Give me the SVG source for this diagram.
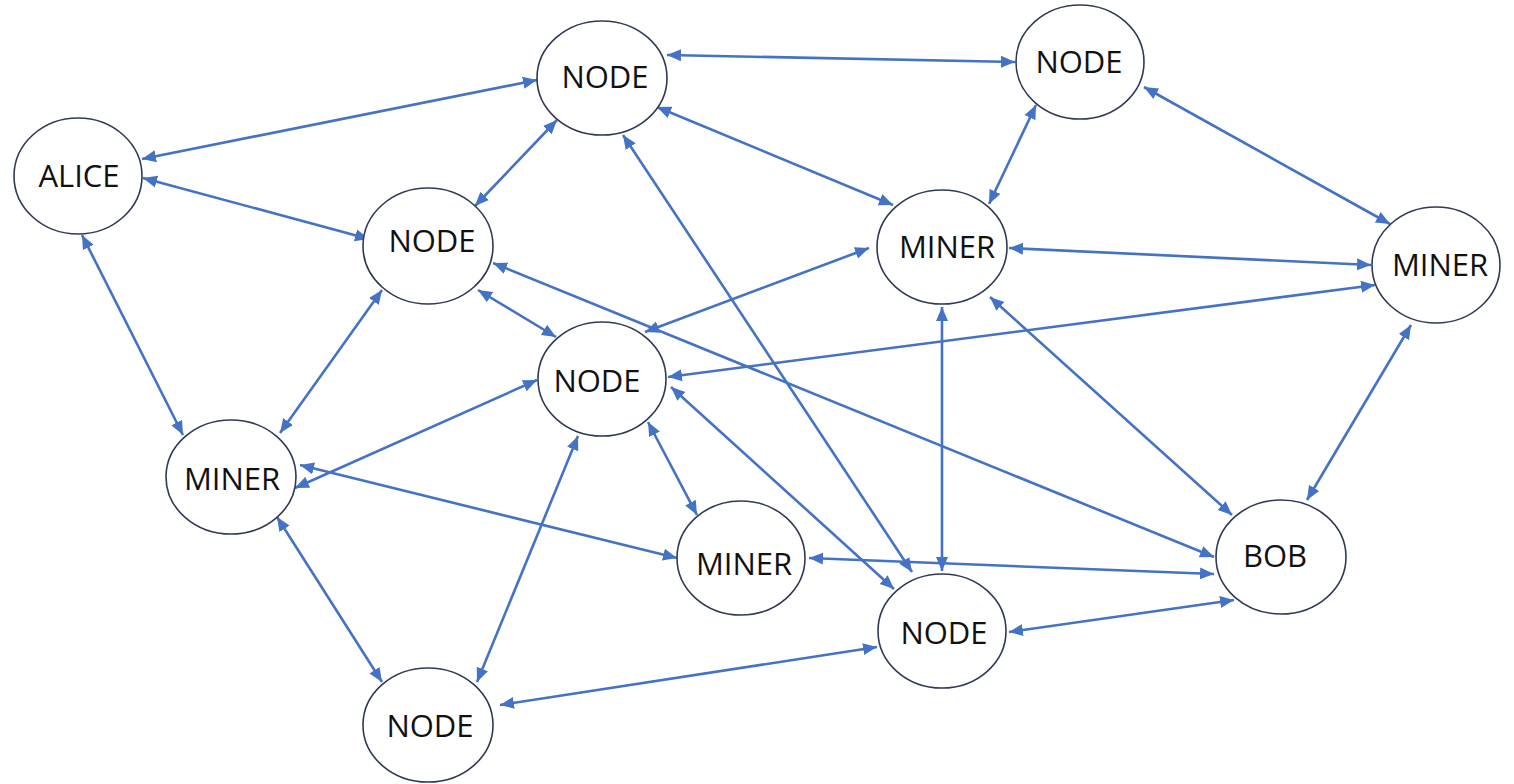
<svg xmlns="http://www.w3.org/2000/svg" width="1514" height="784" viewBox="0 0 1514 784">
<style>
.e{stroke:#4472C4;stroke-width:2.6;fill:none;marker-start:url(#ah);marker-end:url(#ah)}
.n{fill:#fff;stroke:#2F3A55;stroke-width:1.6}
.t{font-family:"Open Sans","Liberation Sans",sans-serif;font-size:31px;fill:#111;text-anchor:middle}
</style>
<defs>
<marker id="ah" markerUnits="userSpaceOnUse" markerWidth="16" markerHeight="14" refX="14" refY="7" orient="auto-start-reverse"><path d="M0,1 L14,7 L0,13 z" fill="#4472C4"/></marker>
</defs>
<rect width="1514" height="784" fill="#fff"/>
<g id="connectors">
<line class="e" x1="667" y1="55" x2="1015" y2="62"/>
<line class="e" x1="142" y1="159" x2="537" y2="80"/>
<line class="e" x1="557" y1="120" x2="475" y2="206"/>
<line class="e" x1="657" y1="107" x2="893" y2="205"/>
<line class="e" x1="623" y1="135" x2="912" y2="572"/>
<line class="e" x1="1036" y1="105" x2="989" y2="204"/>
<line class="e" x1="1144" y1="87" x2="1390" y2="224"/>
<line class="e" x1="143" y1="178" x2="369" y2="239"/>
<line class="e" x1="82" y1="235" x2="183" y2="435"/>
<line class="e" x1="382" y1="290" x2="280" y2="433"/>
<line class="e" x1="478" y1="290" x2="556" y2="337"/>
<line class="e" x1="493" y1="263" x2="1214" y2="557"/>
<line class="e" x1="869" y1="248" x2="645" y2="332"/>
<line class="e" x1="1009" y1="248" x2="1371" y2="265"/>
<line class="e" x1="942" y1="307" x2="942" y2="571"/>
<line class="e" x1="990" y1="297" x2="1232" y2="515"/>
<line class="e" x1="1375" y1="285" x2="668" y2="377"/>
<line class="e" x1="1411" y1="325" x2="1307" y2="500"/>
<line class="e" x1="537" y1="380" x2="295" y2="488"/>
<line class="e" x1="648" y1="422" x2="697" y2="515"/>
<line class="e" x1="671" y1="387" x2="894" y2="589"/>
<line class="e" x1="578" y1="436" x2="477" y2="682"/>
<line class="e" x1="300" y1="465" x2="677" y2="558"/>
<line class="e" x1="277" y1="517" x2="382" y2="682"/>
<line class="e" x1="809" y1="558" x2="1214" y2="574"/>
<line class="e" x1="1234" y1="600" x2="1009" y2="632"/>
<line class="e" x1="877" y1="647" x2="500" y2="705"/>
</g>
<g id="node-top"><ellipse class="n" cx="602" cy="78" rx="65" ry="57"/><text class="t" x="605" y="88">NODE</text></g>
<g id="node-top-right"><ellipse class="n" cx="1080" cy="62" rx="64" ry="57"/><text class="t" x="1079" y="73">NODE</text></g>
<g id="alice"><ellipse class="n" cx="78" cy="176" rx="64" ry="58"/><text class="t" x="79" y="187">ALICE</text></g>
<g id="node-left"><ellipse class="n" cx="428" cy="246" rx="65" ry="58"/><text class="t" x="432" y="252">NODE</text></g>
<g id="miner-center"><ellipse class="n" cx="942" cy="247" rx="65" ry="57"/><text class="t" x="947" y="258">MINER</text></g>
<g id="miner-right"><ellipse class="n" cx="1436" cy="265" rx="64" ry="58"/><text class="t" x="1440" y="276">MINER</text></g>
<g id="node-center"><ellipse class="n" cx="602" cy="379" rx="64" ry="57"/><text class="t" x="597" y="392">NODE</text></g>
<g id="miner-left"><ellipse class="n" cx="231" cy="477" rx="65" ry="57"/><text class="t" x="232" y="490">MINER</text></g>
<g id="miner-bottom"><ellipse class="n" cx="741" cy="558" rx="64" ry="57"/><text class="t" x="744" y="575">MINER</text></g>
<g id="bob"><ellipse class="n" cx="1281" cy="557" rx="65" ry="57"/><text class="t" x="1275" y="567">BOB</text></g>
<g id="node-bottom-right"><ellipse class="n" cx="942" cy="631" rx="64" ry="57"/><text class="t" x="944" y="644">NODE</text></g>
<g id="node-bottom"><ellipse class="n" cx="428" cy="725" rx="65" ry="57"/><text class="t" x="430" y="737">NODE</text></g>
</svg>
